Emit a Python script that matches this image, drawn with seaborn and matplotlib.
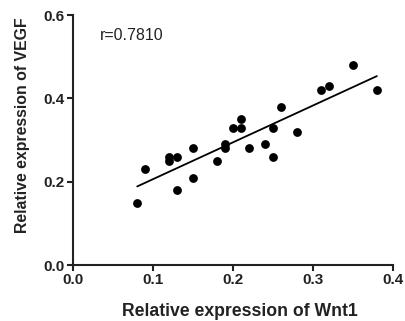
import matplotlib
matplotlib.use("Agg")
import matplotlib.pyplot as plt
import seaborn as sns
import pandas as pd

sns.set_theme(style="ticks")
plt.rcParams["font.family"] = ["Liberation Sans", "DejaVu Sans"]

# values
wnt1 = [0.08, 0.09, 0.12, 0.12, 0.13, 0.13, 0.15, 0.15, 0.18, 0.19, 0.19, 0.20,
        0.21, 0.21, 0.22, 0.24, 0.25, 0.25, 0.26, 0.28, 0.31, 0.32, 0.35, 0.38]
vegf = [0.15, 0.23, 0.26, 0.25, 0.26, 0.18, 0.28, 0.21, 0.25, 0.29, 0.28, 0.33,
        0.33, 0.35, 0.28, 0.29, 0.33, 0.26, 0.38, 0.32, 0.42, 0.43, 0.48, 0.42]
r_label = "r=0.7810"

df = pd.DataFrame({"Wnt1": wnt1, "VEGF": vegf})

fig = plt.figure(figsize=(4.05, 3.21), dpi=100)
ax = fig.add_axes([0.181, 0.174, 0.789, 0.779])

sns.regplot(
    data=df, x="Wnt1", y="VEGF", ax=ax, ci=None, color="black",
    scatter_kws=dict(s=40, linewidths=0, alpha=1),
    line_kws=dict(linewidth=1.3),
)

ax.set_xlim(0, 0.4)
ax.set_ylim(0, 0.6)
ax.set_xticks([0.0, 0.1, 0.2, 0.3, 0.4])
ax.set_yticks([0.0, 0.2, 0.4, 0.6])
ax.set_xticklabels([f"{v:.1f}" for v in ax.get_xticks()], fontweight="bold", fontsize=11)
ax.set_yticklabels([f"{v:.1f}" for v in ax.get_yticks()], fontweight="bold", fontsize=11)

ax.set_xlabel("Relative expression of Wnt1", fontsize=12.7, fontweight="bold",
              color="#222222")
ax.set_ylabel("Relative expression of VEGF", fontsize=11.4, fontweight="bold",
              color="#222222")
ax.xaxis.set_label_coords(0.52, -0.15)
ax.yaxis.set_label_coords(-0.135, 0.56)

ax.text(0.033, 0.552, r_label, fontsize=11.5, va="center", ha="left", color="#222222")

for s in ["left", "bottom"]:
    ax.spines[s].set_linewidth(1.5)
    ax.spines[s].set_color("#222222")
sns.despine(ax=ax)
ax.tick_params(width=1.5, length=4, color="#222222", labelcolor="#222222", pad=2)

fig.savefig("out.png", dpi=100)
